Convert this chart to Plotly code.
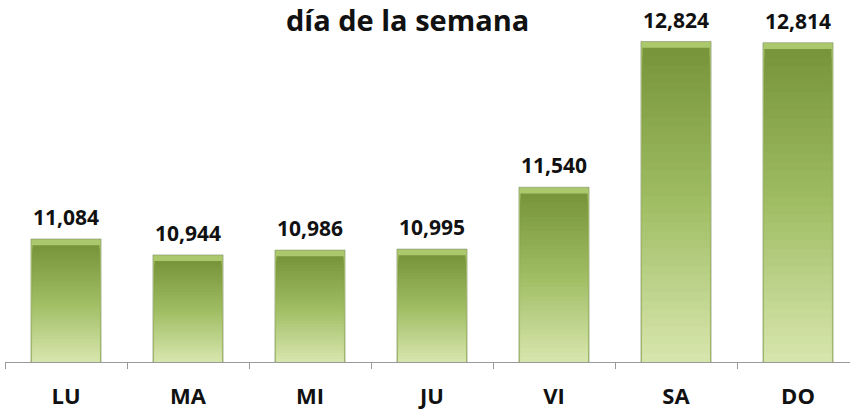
import plotly.graph_objects as go

categories = ["LU", "MA", "MI", "JU", "VI", "SA", "DO"]
values = [11084, 10944, 10986, 10995, 11540, 12824, 12814]
value_labels = ["11,084", "10,944", "10,986", "10,995", "11,540", "12,824", "12,814"]
title_text = "día de la semana"

Y_MIN = 10000
Y_MAX = 13190
FONT = "'Open Sans', sans-serif"

def lerp(c1, c2, t):
    return "rgb(%d,%d,%d)" % tuple(round(a + (b - a) * t) for a, b in zip(c1, c2))

dark = (120, 149, 60)
mid = (160, 190, 100)
light = (214, 229, 172)

fig = go.Figure()

# outer edge / bevel highlight (full height)
fig.add_trace(go.Bar(
    x=categories, y=[v - Y_MIN for v in values], base=Y_MIN,
    marker=dict(color="rgb(172,200,108)", line=dict(color="rgba(120,130,100,0.5)", width=1)),
    width=0.575, hoverinfo="skip", showlegend=False,
))

# gradient layers (dark at top -> light at bottom)
n = 36
bevel = 55
for k in range(n):
    frac = 1 - k / n
    t = k / (n - 1)
    if t < 0.5:
        col = lerp(dark, mid, t / 0.5)
    else:
        col = lerp(mid, light, (t - 0.5) / 0.5)
    fig.add_trace(go.Bar(
        x=categories,
        y=[(v - Y_MIN - bevel) * frac for v in values],
        base=Y_MIN,
        marker=dict(color=col, line=dict(width=0)),
        width=0.55, hoverinfo="skip", showlegend=False,
    ))

for c, v, lab in zip(categories, values, value_labels):
    fig.add_annotation(x=c, y=v, text="<b>%s</b>" % lab, showarrow=False,
                       yanchor="bottom", yshift=6,
                       font=dict(family=FONT, size=21, color="#111111"))

fig.add_annotation(x=0.476, y=1.0, xref="paper", yref="paper", xanchor="center", yanchor="top",
                   yshift=2, text="<b>%s</b>" % title_text, showarrow=False,
                   font=dict(family=FONT, size=29, color="#111111"))

fig.update_layout(
    width=850, height=409,
    margin=dict(l=5, r=0, t=0, b=47),
    barmode="overlay",
    plot_bgcolor="white", paper_bgcolor="white",
    xaxis=dict(type="category", range=[-0.5, -0.5 + 845 / 122], automargin=False,
               showline=True, linecolor="#9a9a9a", linewidth=1.2,
               ticks="outside", tickson="boundaries", ticklen=6, tickcolor="#9a9a9a",
               ticklabelstandoff=14,
               tickfont=dict(family=FONT, size=22, color="#111111"),
               showgrid=False, zeroline=False),
    yaxis=dict(range=[Y_MIN, Y_MAX], visible=False, showgrid=False, zeroline=False,
               automargin=False),
)
fig.update_xaxes(ticktext=["<b>%s</b>" % c for c in categories], tickvals=categories)

fig.write_html("out.html", config={"displayModeBar": False},
               post_script="document.body.style.margin='0';")
